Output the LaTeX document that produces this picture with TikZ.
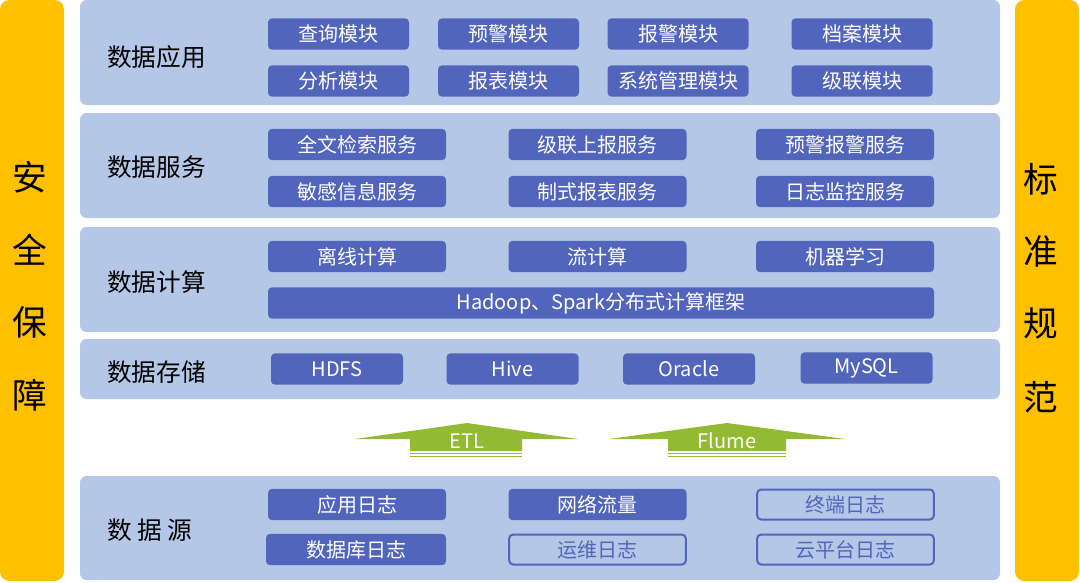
\documentclass[tikz,border=0pt]{standalone}
\usepackage{fontspec}
\setmainfont{Noto Sans CJK SC}
\usepackage{xcolor}
\usepackage{tikz}
\definecolor{panelblue}{RGB}{180,199,231}
\definecolor{boxblue}{RGB}{82,101,189}
\definecolor{baryellow}{RGB}{255,192,0}
\definecolor{arrowgreen}{RGB}{147,186,51}

\tikzset{
    layer/.style={fill=panelblue, rounded corners=5pt},
    sidebar/.style={fill=baryellow, rounded corners=7pt},
    sidetext/.style={font=\fontsize{26}{28}\selectfont, text=black},
    layertitle/.style={anchor=west, inner sep=0pt, font=\fontsize{18.5}{20}\selectfont, text=black},
    modbox/.style={fill=boxblue, text=white, rounded corners=3pt, minimum height=23.5pt, inner sep=0pt, font=\fontsize{15}{18}\selectfont},
    hollowbox/.style={modbox, draw=boxblue, line width=1.5pt, fill=panelblue, text=boxblue, minimum height=22.5pt},
    arrowtext/.style={text=white, inner sep=0pt, font=\fontsize{15}{18}\selectfont}
}

\begin{document}
\begin{tikzpicture}[x=0.75pt, y=-0.75pt]
    \useasboundingbox (0,0) rectangle (1080,582);

    \fill[sidebar] (0,0) rectangle (64,581);
    \fill[sidebar] (1015,0) rectangle (1079,581);
    \node[sidetext] (s1) at (30,177) {安};
    \node[sidetext] (s2) at (30,250) {全};
    \node[sidetext] (s3) at (30,322) {保};
    \node[sidetext] (s4) at (30,395) {障};
    \node[sidetext] (n1) at (1041,179) {标};
    \node[sidetext] (n2) at (1041,251) {准};
    \node[sidetext] (n3) at (1041,323) {规};
    \node[sidetext] (n4) at (1041,397) {范};

    \fill[layer] (80,0) rectangle (1000,105);
    \fill[layer] (80,113) rectangle (1000,218);
    \fill[layer] (80,227) rectangle (1000,332);
    \fill[layer] (80,339) rectangle (1000,399);
    \fill[layer] (80,476) rectangle (1000,580);

    \node[layertitle] (t1) at (107,57) {数据应用};
    \node[layertitle] (t2) at (107,167) {数据服务};
    \node[layertitle] (t3) at (107,282) {数据计算};
    \node[layertitle] (t4) at (107,372) {数据存储};
    \node[layertitle] (t5) at (107,530) {数 据 源};

    \node[modbox, minimum width=105.75pt] (app1) at (338.5,34) {查询模块};
    \node[modbox, minimum width=105.75pt] (app2) at (508.5,34) {预警模块};
    \node[modbox, minimum width=105.75pt] (app3) at (678,34) {报警模块};
    \node[modbox, minimum width=105.75pt] (app4) at (862,34) {档案模块};
    \node[modbox, minimum width=105.75pt] (app5) at (338.5,81) {分析模块};
    \node[modbox, minimum width=105.75pt] (app6) at (508.5,81) {报表模块};
    \node[modbox, minimum width=105.75pt] (app7) at (678,81) {系统管理模块};
    \node[modbox, minimum width=105.75pt] (app8) at (862,81) {级联模块};

    \node[modbox, minimum width=133.5pt] (srv1) at (357,144.5) {全文检索服务};
    \node[modbox, minimum width=133.5pt] (srv2) at (597.5,144.5) {级联上报服务};
    \node[modbox, minimum width=133.5pt] (srv3) at (845,144.5) {预警报警服务};
    \node[modbox, minimum width=133.5pt] (srv4) at (357,191.5) {敏感信息服务};
    \node[modbox, minimum width=133.5pt] (srv5) at (597.5,191.5) {制式报表服务};
    \node[modbox, minimum width=133.5pt] (srv6) at (845,191.5) {日志监控服务};

    \node[modbox, minimum width=133.5pt] (cmp1) at (357,256.5) {离线计算};
    \node[modbox, minimum width=133.5pt] (cmp2) at (597.5,256.5) {流计算};
    \node[modbox, minimum width=133.5pt] (cmp3) at (845,256.5) {机器学习};
    \node[modbox, minimum width=499.5pt] (cmp4) at (601,303) {Hadoop、Spark分布式计算框架};

    \node[modbox, minimum width=99pt] (sto1) at (337,369) {HDFS};
    \node[modbox, minimum width=99pt] (sto2) at (512.5,369) {Hive};
    \node[modbox, minimum width=99pt] (sto3) at (689,369) {Oracle};
    \node[modbox, minimum width=99pt] (sto4) at (866.5,368) {MySQL};

    \fill[arrowgreen] (355,439) -- (467,423) -- (578,439) -- (522,439) -- (522,451) -- (410,451) -- (410,439) -- cycle;
    \draw[arrowgreen, line width=1pt] (410,453.5) -- (522,453.5);
    \draw[arrowgreen, line width=1.2pt] (410,456.5) -- (522,456.5);
    \node[arrowtext] (etl) at (467,441) {ETL};
    \fill[arrowgreen] (609,439) -- (727,423) -- (845,439) -- (786,439) -- (786,451) -- (668,451) -- (668,439) -- cycle;
    \draw[arrowgreen, line width=1pt] (668,453.5) -- (786,453.5);
    \draw[arrowgreen, line width=1.2pt] (668,456.5) -- (786,456.5);
    \node[arrowtext] (flume) at (727,441) {Flume};

    \node[modbox, minimum width=133.5pt] (src1) at (357,504.5) {应用日志};
    \node[modbox, minimum width=135pt] (src2) at (356,549.5) {数据库日志};
    \node[modbox, minimum width=133.5pt] (src3) at (597.5,504.5) {网络流量};
    \node[hollowbox, minimum width=132.5pt] (src4) at (597.5,549.5) {运维日志};
    \node[hollowbox, minimum width=132.5pt] (src5) at (845.5,504.5) {终端日志};
    \node[hollowbox, minimum width=132.5pt] (src6) at (845.5,549.5) {云平台日志};
\end{tikzpicture}
\end{document}
